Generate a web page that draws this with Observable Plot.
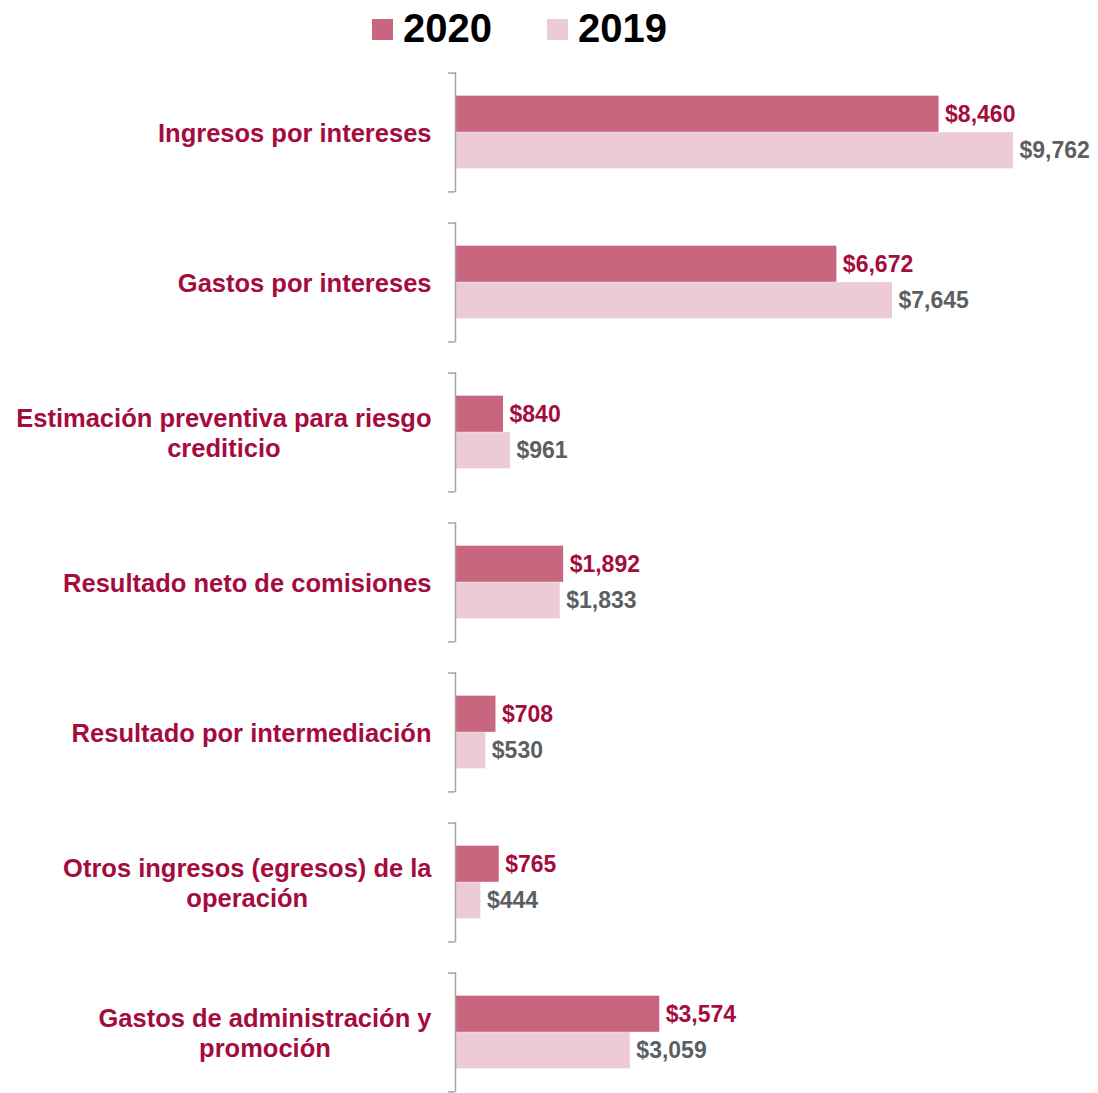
<!DOCTYPE html>
<html>
<head>
<meta charset="utf-8">
<script src="https://cdn.jsdelivr.net/npm/d3@7"></script>
<script src="https://cdn.jsdelivr.net/npm/@observablehq/plot@0.6"></script>
<style>
  body { margin: 0; background: #ffffff; font-family: "Liberation Sans", Arial, sans-serif; }
  #legend { position: relative; height: 60px; width: 1098px; }
  .sw { position: absolute; top: 19px; width: 21px; height: 21px; }
  .lt { position: absolute; top: 5px; font-weight: bold; font-size: 40px; line-height: 46px; color: #000; }
  #chart svg { display: block; }
</style>
</head>
<body>
<div id="legend"></div>
<div id="chart"></div>
<script>
// ---- data ----
const categories = [
  "Ingresos por intereses",
  "Gastos por intereses",
  "Estimación preventiva para riesgo\ncrediticio",
  "Resultado neto de comisiones",
  "Resultado por intermediación",
  "Otros ingresos (egresos) de la\noperación",
  "Gastos de administración y\npromoción"
];
const values2020 = [8460, 6672, 840, 1892, 708, 765, 3574];
const values2019 = [9762, 7645, 961, 1833, 530, 444, 3059];
const seriesNames = ["2020", "2019"];

// ---- styles ----
const color2020 = "#C9667F";
const color2019 = "#EDCBD6";
const textRed = "#A50C3E";
const textGrey = "#5B5F63";
const bracketColor = "#A6A6A6";
const fontFamily = "'Liberation Sans', Arial, sans-serif";

// legend
const legend = document.getElementById("legend");
[[seriesNames[0], color2020, 372, 403], [seriesNames[1], color2019, 547, 578]].forEach(([name, col, sx, tx]) => {
  const s = document.createElement("div");
  s.className = "sw"; s.style.left = sx + "px"; s.style.background = col;
  legend.appendChild(s);
  const t = document.createElement("div");
  t.className = "lt"; t.style.left = tx + "px"; t.textContent = name;
  legend.appendChild(t);
});

const rows = categories.map((c, i) => ({category: c, v2020: values2020[i], v2019: values2019[i]}));

const W = 1098, H = 1033, mTop = 10, mBottom = 0, mLeft = 455, mRight = 85;
const padInner = 0.2;
const bw = d3.scaleBand().domain(categories).range([mTop, H - mBottom]).paddingInner(padInner).paddingOuter(0).bandwidth();
const barH = 36.5;
const fmt = d3.format(",");

// measure category label widths for centered multi-line labels
const catFont = 25.5;
const ctx = document.createElement("canvas").getContext("2d");
ctx.font = `bold ${catFont}px 'Liberation Sans', Arial, sans-serif`;
const labelMarks = categories.map(c => {
  const w = d3.max(c.split("\n"), l => ctx.measureText(l).width);
  return Plot.text([c], {
    x: () => 0, y: d => d, text: d => d,
    textAnchor: "middle", lineAnchor: "middle", lineHeight: 1.16,
    dx: -24 - w / 2, fill: textRed, fontWeight: "bold", fontSize: catFont
  });
});

const plot = Plot.plot({
  width: W, height: H,
  marginLeft: mLeft, marginRight: mRight, marginTop: mTop, marginBottom: mBottom,
  x: {domain: [0, d3.max(values2019.concat(values2020))], axis: null},
  y: {domain: categories, paddingInner: padInner, paddingOuter: 0, axis: null},
  style: {fontFamily, background: "#ffffff", overflow: "visible"},
  marks: [
    Plot.barX(rows, {x: "v2020", y: "category", fill: color2020, insetTop: bw / 2 - barH, insetBottom: bw / 2}),
    Plot.barX(rows, {x: "v2019", y: "category", fill: color2019, insetTop: bw / 2, insetBottom: bw / 2 - barH}),
    Plot.tickX(rows, {x: () => 0, y: "category", stroke: bracketColor, strokeWidth: 1.5}),
    Plot.ruleY(rows, {y: "category", x1: 0, x2: 0, insetLeft: -7, dy: -bw / 2 + 0.75, stroke: bracketColor, strokeWidth: 1.5}),
    Plot.ruleY(rows, {y: "category", x1: 0, x2: 0, insetLeft: -7, dy: bw / 2 - 0.75, stroke: bracketColor, strokeWidth: 1.5}),
    Plot.text(rows, {x: "v2020", y: "category", text: d => "$" + fmt(d.v2020), textAnchor: "start", dx: 6, dy: -barH / 2, fill: textRed, fontWeight: "bold", fontSize: 23}),
    Plot.text(rows, {x: "v2019", y: "category", text: d => "$" + fmt(d.v2019), textAnchor: "start", dx: 6, dy: barH / 2, fill: textGrey, fontWeight: "bold", fontSize: 23}),
    ...labelMarks
  ]
});
document.getElementById("chart").appendChild(plot);
</script>
</body>
</html>
